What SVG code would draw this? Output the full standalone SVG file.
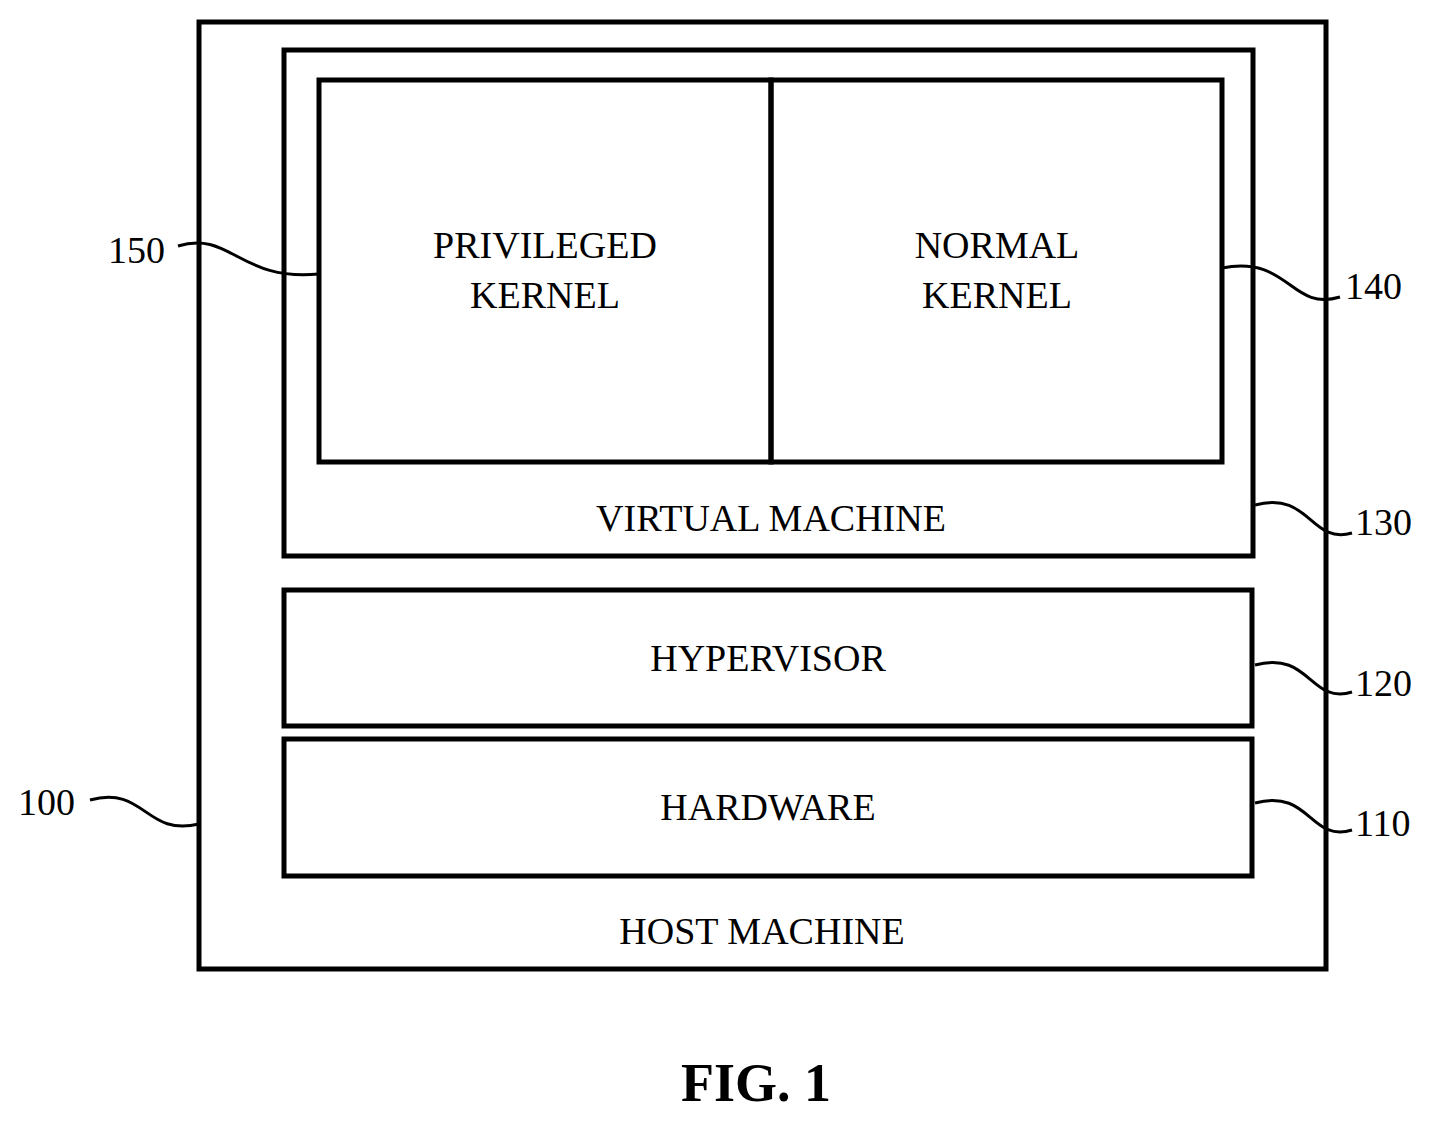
<svg xmlns="http://www.w3.org/2000/svg" width="1452" height="1124" viewBox="0 0 1452 1124">
<style>
.b{fill:none;stroke:#000;stroke-width:5}
.l{fill:none;stroke:#000;stroke-width:3}
text{font-family:"Liberation Serif",serif;font-size:38px;fill:#000}
.c{text-anchor:middle}
</style>
<rect width="1452" height="1124" fill="#fff"/>
<g id="host"><rect class="b" x="199" y="22" width="1127" height="947"/><text class="c" x="762" y="944">HOST MACHINE</text></g>
<g id="vm"><rect class="b" x="284" y="50" width="969" height="506"/><text class="c" x="771" y="531">VIRTUAL MACHINE</text></g>
<g id="priv"><rect class="b" x="319" y="80" width="452" height="382"/><text class="c" x="545" y="258">PRIVILEGED</text><text class="c" x="545" y="308">KERNEL</text></g>
<g id="normal"><rect class="b" x="771" y="80" width="451" height="382"/><text class="c" x="997" y="258">NORMAL</text><text class="c" x="997" y="308">KERNEL</text></g>
<g id="hyp"><rect class="b" x="284" y="590" width="968" height="136"/><text class="c" x="768" y="671">HYPERVISOR</text></g>
<g id="hw"><rect class="b" x="284" y="739" width="968" height="137"/><text class="c" x="768" y="820">HARDWARE</text></g>
<g id="connectors">
<path class="l" d="M178,246 C230,230 240,282 319,274"/>
<path class="l" d="M1222,268 C1290,255 1290,312 1340,297"/>
<path class="l" d="M1255,505 C1310,490 1310,545 1352,533"/>
<path class="l" d="M1255,665 C1310,650 1310,705 1352,692"/>
<path class="l" d="M1255,803 C1310,788 1310,843 1352,830"/>
<path class="l" d="M90,800 C145,785 145,837 199,824"/>
</g>
<g id="labels">
<text x="108" y="263">150</text>
<text x="1345" y="299">140</text>
<text x="1355" y="535">130</text>
<text x="1355" y="696">120</text>
<text x="1355" y="836">110</text>
<text x="18" y="815">100</text>
<text class="c" x="756" y="1101" style="font-weight:bold;font-size:54px">FIG. 1</text>
</g>
</svg>
